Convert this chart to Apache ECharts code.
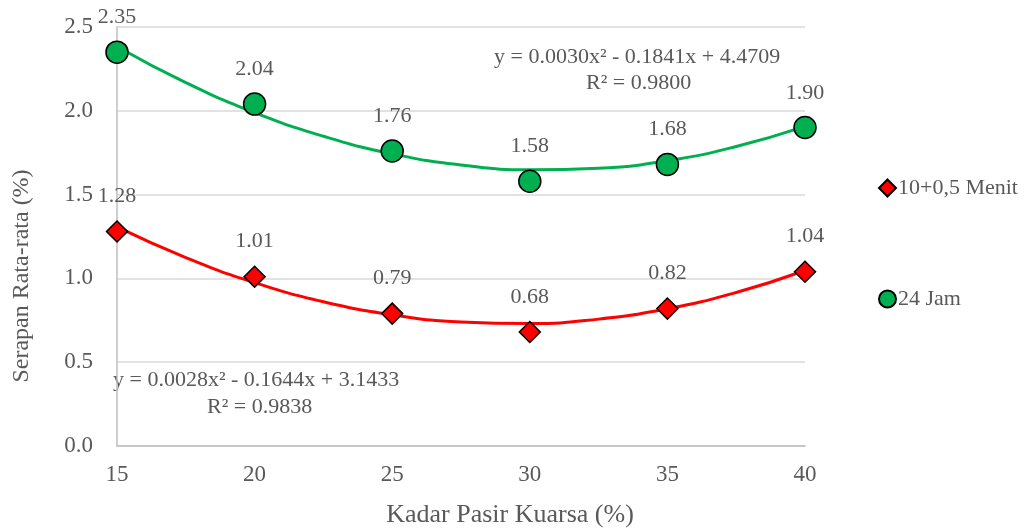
<!DOCTYPE html>
<html>
<head>
<meta charset="utf-8">
<script src="https://cdn.jsdelivr.net/npm/echarts@6/dist/echarts.min.js"></script>
<style>
  html, body { margin: 0; padding: 0; background: #fff; }
  #chart { width: 1029px; height: 530px; }
</style>
</head>
<body>
<div id="chart"></div>
<script>
// data
const kadar = [15, 20, 25, 30, 35, 40];
const menit10 = [1.28, 1.01, 0.79, 0.68, 0.82, 1.04];
const jam24 = [2.35, 2.04, 1.76, 1.58, 1.68, 1.90];

// trendline positions
const trendX = [15, 17.5, 20, 22.5, 25, 27.5, 30, 32.5, 35, 37.5, 40];
const trend10 = [1.307, 1.124, 0.975, 0.861, 0.783, 0.740, 0.731, 0.757, 0.819, 0.916, 1.047];
const trend24 = [2.384, 2.168, 1.989, 1.848, 1.743, 1.677, 1.648, 1.657, 1.702, 1.787, 1.907];

const yTicks = [0, 0.5, 1.0, 1.5, 2.0, 2.5];

const textColor = '#595959';
const font = '"Liberation Serif", "DejaVu Serif", serif';

const chart = echarts.init(document.getElementById('chart'));

const pairs = (xs, ys) => xs.map((x, i) => [x, ys[i]]);

const option = {
  animation: false,
  textStyle: { fontFamily: font, color: textColor },
  grid: { left: 117, right: 224, top: 27, bottom: 84, outerBoundsMode: 'none', containLabel: false },
  legend: {
    orient: 'vertical',
    left: 873,
    top: 172,
    itemGap: 89,
    itemWidth: 17,
    itemHeight: 17,
    data: ['10+0,5 Menit', '24 Jam'],
    textStyle: { fontFamily: font, color: textColor, fontSize: 22, padding: [0, 0, 0, -3] }
  },
  xAxis: {
    type: 'value',
    min: 15,
    max: 40,
    interval: 5,
    axisLine: { show: true, lineStyle: { color: '#bfbfbf', width: 1.5 } },
    axisTick: { show: false },
    splitLine: { show: false },
    axisLabel: { fontFamily: font, color: textColor, fontSize: 23, margin: 17 }
  },
  yAxis: {
    type: 'value',
    min: yTicks[0],
    max: yTicks[yTicks.length - 1],
    interval: 0.5,
    axisLine: { show: true, lineStyle: { color: '#bfbfbf', width: 1.5 } },
    axisTick: { show: false },
    splitLine: { show: true, lineStyle: { color: '#d9d9d9', width: 1.5 } },
    axisLabel: {
      fontFamily: font, color: textColor, fontSize: 23, margin: 24,
      formatter: v => v.toFixed(1)
    }
  },
  graphic: [
    // axis titles (Excel places them off-centre)
    {
      type: 'text', x: 510, y: 515,
      style: { text: 'Kadar Pasir Kuarsa (%)', font: '26px ' + font, fill: textColor, align: 'center', verticalAlign: 'middle' }
    },
    {
      type: 'text', x: 22, y: 276, rotation: Math.PI / 2,
      style: { text: 'Serapan Rata-rata (%)', font: '24px ' + font, fill: textColor, align: 'center', verticalAlign: 'middle' }
    },
    // trendline equations
    {
      type: 'text', left: 494, top: 46,
      style: { text: 'y = 0.0030x² - 0.1841x + 4.4709', font: '22px ' + font, fill: textColor }
    },
    {
      type: 'text', left: 586, top: 72,
      style: { text: 'R² = 0.9800', font: '22px ' + font, fill: textColor }
    },
    {
      type: 'text', left: 113, top: 369,
      style: { text: 'y = 0.0028x² - 0.1644x + 3.1433', font: '22px ' + font, fill: textColor }
    },
    {
      type: 'text', left: 207, top: 396,
      style: { text: 'R² = 0.9838', font: '22px ' + font, fill: textColor }
    }
  ],
  series: [
    {
      name: 'trend10',
      type: 'line',
      data: pairs(trendX, trend10),
      smooth: true,
      showSymbol: false,
      silent: true,
      lineStyle: { color: '#ff0000', width: 3 },
      z: 2
    },
    {
      name: 'trend24',
      type: 'line',
      data: pairs(trendX, trend24),
      smooth: true,
      showSymbol: false,
      silent: true,
      lineStyle: { color: '#00b050', width: 3 },
      z: 2
    },
    {
      name: '10+0,5 Menit',
      type: 'scatter',
      data: pairs(kadar, menit10),
      symbol: 'diamond',
      symbolSize: 21,
      itemStyle: { color: '#ff0000', borderColor: '#000', borderWidth: 1.5, opacity: 1 },
      label: {
        show: true, position: 'top', distance: 13,
        fontFamily: font, color: textColor, fontSize: 22,
        formatter: p => p.value[1].toFixed(2)
      },
      z: 5
    },
    {
      name: '24 Jam',
      type: 'scatter',
      data: pairs(kadar, jam24),
      symbol: 'circle',
      symbolSize: 22,
      itemStyle: { color: '#00b050', borderColor: '#000', borderWidth: 1.5, opacity: 1 },
      label: {
        show: true, position: 'top', distance: 12,
        fontFamily: font, color: textColor, fontSize: 22,
        formatter: p => p.value[1].toFixed(2)
      },
      z: 5
    }
  ]
};

chart.setOption(option);
</script>
</body>
</html>
